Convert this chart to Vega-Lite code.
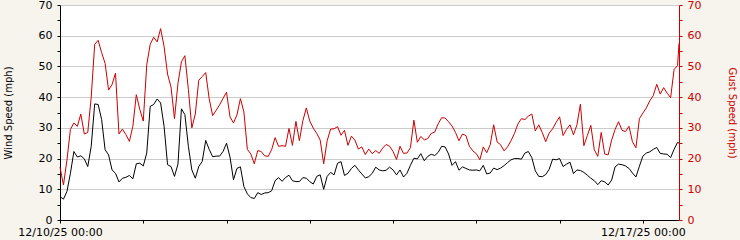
{
  "$schema": "https://vega.github.io/schema/vega-lite/v6.json",
  "width": 619,
  "height": 215,
  "autosize": "none",
  "padding": {"left": 60, "top": 5, "right": 61, "bottom": 20},
  "background": "#f6f4ec",
  "config": {
    "view": {"fill": "white", "stroke": null},
    "font": "DejaVu Sans",
    "axis": {"labelFont": "DejaVu Sans", "titleFont": "DejaVu Sans", "labelFontSize": 11, "titleFontSize": 10, "titleFontWeight": "normal", "labelFlush": false, "labelOverlap": false, "labelBound": false}
  },
  "data": {"values": [
    {"time": "2025-12-10T00:00", "wind": 7.6, "gust": 17.2},
    {"time": "2025-12-10T01:00", "wind": 6.8, "gust": 11.4},
    {"time": "2025-12-10T02:00", "wind": 9.3, "gust": 19.5},
    {"time": "2025-12-10T03:00", "wind": 15.2, "gust": 29.5},
    {"time": "2025-12-10T04:00", "wind": 22.3, "gust": 31.6},
    {"time": "2025-12-10T05:00", "wind": 20.5, "gust": 30.5},
    {"time": "2025-12-10T06:00", "wind": 20.9, "gust": 34.5},
    {"time": "2025-12-10T07:00", "wind": 19.9, "gust": 28.0},
    {"time": "2025-12-10T08:00", "wind": 17.4, "gust": 28.5},
    {"time": "2025-12-10T09:00", "wind": 24.0, "gust": 40.0},
    {"time": "2025-12-10T10:00", "wind": 37.8, "gust": 57.2},
    {"time": "2025-12-10T11:00", "wind": 37.6, "gust": 58.5},
    {"time": "2025-12-10T12:00", "wind": 32.7, "gust": 54.5},
    {"time": "2025-12-10T13:00", "wind": 22.9, "gust": 51.0},
    {"time": "2025-12-10T14:00", "wind": 21.2, "gust": 42.3},
    {"time": "2025-12-10T15:00", "wind": 16.3, "gust": 44.1},
    {"time": "2025-12-10T16:00", "wind": 15.2, "gust": 47.8},
    {"time": "2025-12-10T17:00", "wind": 12.4, "gust": 28.0},
    {"time": "2025-12-10T18:00", "wind": 13.6, "gust": 29.6},
    {"time": "2025-12-10T19:00", "wind": 13.9, "gust": 27.8},
    {"time": "2025-12-10T20:00", "wind": 14.5, "gust": 25.6},
    {"time": "2025-12-10T21:00", "wind": 13.4, "gust": 30.5},
    {"time": "2025-12-10T22:00", "wind": 18.3, "gust": 40.8},
    {"time": "2025-12-10T23:00", "wind": 18.5, "gust": 36.0},
    {"time": "2025-12-11T00:00", "wind": 17.6, "gust": 32.2},
    {"time": "2025-12-11T01:00", "wind": 21.8, "gust": 50.5},
    {"time": "2025-12-11T02:00", "wind": 37.0, "gust": 57.2},
    {"time": "2025-12-11T03:00", "wind": 37.6, "gust": 59.5},
    {"time": "2025-12-11T04:00", "wind": 39.4, "gust": 58.0},
    {"time": "2025-12-11T05:00", "wind": 38.1, "gust": 62.3},
    {"time": "2025-12-11T06:00", "wind": 30.5, "gust": 56.5},
    {"time": "2025-12-11T07:00", "wind": 18.0, "gust": 47.5},
    {"time": "2025-12-11T08:00", "wind": 17.4, "gust": 43.3},
    {"time": "2025-12-11T09:00", "wind": 14.2, "gust": 33.0},
    {"time": "2025-12-11T10:00", "wind": 18.2, "gust": 44.5},
    {"time": "2025-12-11T11:00", "wind": 36.2, "gust": 51.5},
    {"time": "2025-12-11T12:00", "wind": 34.3, "gust": 53.5},
    {"time": "2025-12-11T13:00", "wind": 24.0, "gust": 42.5},
    {"time": "2025-12-11T14:00", "wind": 16.3, "gust": 30.0},
    {"time": "2025-12-11T15:00", "wind": 13.6, "gust": 34.5},
    {"time": "2025-12-11T16:00", "wind": 17.4, "gust": 45.5},
    {"time": "2025-12-11T17:00", "wind": 19.1, "gust": 46.7},
    {"time": "2025-12-11T18:00", "wind": 25.9, "gust": 48.0},
    {"time": "2025-12-11T19:00", "wind": 23.0, "gust": 39.5},
    {"time": "2025-12-11T20:00", "wind": 20.6, "gust": 34.0},
    {"time": "2025-12-11T21:00", "wind": 20.8, "gust": 35.7},
    {"time": "2025-12-11T22:00", "wind": 20.8, "gust": 37.5},
    {"time": "2025-12-11T23:00", "wind": 22.3, "gust": 39.6},
    {"time": "2025-12-12T00:00", "wind": 25.0, "gust": 41.6},
    {"time": "2025-12-12T01:00", "wind": 20.5, "gust": 33.6},
    {"time": "2025-12-12T02:00", "wind": 13.1, "gust": 31.6},
    {"time": "2025-12-12T03:00", "wind": 16.8, "gust": 34.2},
    {"time": "2025-12-12T04:00", "wind": 17.3, "gust": 39.5},
    {"time": "2025-12-12T05:00", "wind": 10.9, "gust": 35.2},
    {"time": "2025-12-12T06:00", "wind": 8.5, "gust": 23.0},
    {"time": "2025-12-12T07:00", "wind": 7.3, "gust": 21.5},
    {"time": "2025-12-12T08:00", "wind": 7.0, "gust": 18.3},
    {"time": "2025-12-12T09:00", "wind": 8.9, "gust": 22.6},
    {"time": "2025-12-12T10:00", "wind": 8.3, "gust": 22.3},
    {"time": "2025-12-12T11:00", "wind": 8.8, "gust": 20.9},
    {"time": "2025-12-12T12:00", "wind": 8.9, "gust": 20.7},
    {"time": "2025-12-12T13:00", "wind": 9.5, "gust": 22.9},
    {"time": "2025-12-12T14:00", "wind": 12.8, "gust": 26.8},
    {"time": "2025-12-12T15:00", "wind": 13.8, "gust": 24.0},
    {"time": "2025-12-12T16:00", "wind": 12.6, "gust": 24.2},
    {"time": "2025-12-12T17:00", "wind": 13.8, "gust": 24.0},
    {"time": "2025-12-12T18:00", "wind": 14.6, "gust": 29.8},
    {"time": "2025-12-12T19:00", "wind": 12.8, "gust": 24.3},
    {"time": "2025-12-12T20:00", "wind": 12.5, "gust": 32.1},
    {"time": "2025-12-12T21:00", "wind": 12.5, "gust": 25.8},
    {"time": "2025-12-12T22:00", "wind": 13.8, "gust": 32.3},
    {"time": "2025-12-12T23:00", "wind": 13.6, "gust": 36.5},
    {"time": "2025-12-13T00:00", "wind": 12.5, "gust": 32.2},
    {"time": "2025-12-13T01:00", "wind": 11.7, "gust": 29.9},
    {"time": "2025-12-13T02:00", "wind": 14.2, "gust": 28.2},
    {"time": "2025-12-13T03:00", "wind": 14.7, "gust": 26.0},
    {"time": "2025-12-13T04:00", "wind": 10.0, "gust": 18.3},
    {"time": "2025-12-13T05:00", "wind": 14.2, "gust": 25.8},
    {"time": "2025-12-13T06:00", "wind": 15.5, "gust": 29.6},
    {"time": "2025-12-13T07:00", "wind": 14.7, "gust": 29.7},
    {"time": "2025-12-13T08:00", "wind": 18.5, "gust": 30.4},
    {"time": "2025-12-13T09:00", "wind": 19.0, "gust": 27.6},
    {"time": "2025-12-13T10:00", "wind": 14.5, "gust": 29.2},
    {"time": "2025-12-13T11:00", "wind": 15.2, "gust": 24.3},
    {"time": "2025-12-13T12:00", "wind": 16.8, "gust": 27.3},
    {"time": "2025-12-13T13:00", "wind": 17.8, "gust": 26.0},
    {"time": "2025-12-13T14:00", "wind": 16.3, "gust": 23.1},
    {"time": "2025-12-13T15:00", "wind": 15.0, "gust": 23.8},
    {"time": "2025-12-13T16:00", "wind": 13.7, "gust": 21.3},
    {"time": "2025-12-13T17:00", "wind": 14.1, "gust": 23.1},
    {"time": "2025-12-13T18:00", "wind": 15.2, "gust": 21.6},
    {"time": "2025-12-13T19:00", "wind": 17.2, "gust": 22.6},
    {"time": "2025-12-13T20:00", "wind": 16.3, "gust": 21.7},
    {"time": "2025-12-13T21:00", "wind": 16.0, "gust": 23.4},
    {"time": "2025-12-13T22:00", "wind": 16.2, "gust": 24.6},
    {"time": "2025-12-13T23:00", "wind": 17.2, "gust": 24.0},
    {"time": "2025-12-14T00:00", "wind": 16.3, "gust": 22.3},
    {"time": "2025-12-14T01:00", "wind": 14.7, "gust": 19.7},
    {"time": "2025-12-14T02:00", "wind": 16.3, "gust": 24.0},
    {"time": "2025-12-14T03:00", "wind": 14.0, "gust": 21.7},
    {"time": "2025-12-14T04:00", "wind": 15.2, "gust": 21.8},
    {"time": "2025-12-14T05:00", "wind": 17.8, "gust": 23.5},
    {"time": "2025-12-14T06:00", "wind": 20.1, "gust": 32.5},
    {"time": "2025-12-14T07:00", "wind": 19.9, "gust": 25.3},
    {"time": "2025-12-14T08:00", "wind": 21.6, "gust": 27.2},
    {"time": "2025-12-14T09:00", "wind": 19.3, "gust": 26.1},
    {"time": "2025-12-14T10:00", "wind": 20.7, "gust": 26.5},
    {"time": "2025-12-14T11:00", "wind": 21.4, "gust": 28.2},
    {"time": "2025-12-14T12:00", "wind": 21.0, "gust": 28.6},
    {"time": "2025-12-14T13:00", "wind": 22.0, "gust": 31.3},
    {"time": "2025-12-14T14:00", "wind": 24.0, "gust": 33.3},
    {"time": "2025-12-14T15:00", "wind": 23.8, "gust": 33.2},
    {"time": "2025-12-14T16:00", "wind": 21.5, "gust": 32.0},
    {"time": "2025-12-14T17:00", "wind": 17.8, "gust": 30.6},
    {"time": "2025-12-14T18:00", "wind": 19.0, "gust": 28.5},
    {"time": "2025-12-14T19:00", "wind": 16.2, "gust": 25.8},
    {"time": "2025-12-14T20:00", "wind": 17.3, "gust": 28.0},
    {"time": "2025-12-14T21:00", "wind": 16.8, "gust": 27.5},
    {"time": "2025-12-14T22:00", "wind": 16.3, "gust": 24.0},
    {"time": "2025-12-14T23:00", "wind": 16.2, "gust": 22.5},
    {"time": "2025-12-15T00:00", "wind": 16.3, "gust": 21.6},
    {"time": "2025-12-15T01:00", "wind": 16.0, "gust": 19.6},
    {"time": "2025-12-15T02:00", "wind": 17.8, "gust": 23.8},
    {"time": "2025-12-15T03:00", "wind": 15.0, "gust": 21.9},
    {"time": "2025-12-15T04:00", "wind": 15.3, "gust": 24.5},
    {"time": "2025-12-15T05:00", "wind": 16.9, "gust": 31.0},
    {"time": "2025-12-15T06:00", "wind": 16.4, "gust": 25.4},
    {"time": "2025-12-15T07:00", "wind": 16.9, "gust": 24.5},
    {"time": "2025-12-15T08:00", "wind": 17.7, "gust": 22.5},
    {"time": "2025-12-15T09:00", "wind": 18.7, "gust": 23.8},
    {"time": "2025-12-15T10:00", "wind": 19.6, "gust": 25.8},
    {"time": "2025-12-15T11:00", "wind": 20.0, "gust": 28.2},
    {"time": "2025-12-15T12:00", "wind": 20.0, "gust": 31.3},
    {"time": "2025-12-15T13:00", "wind": 19.8, "gust": 33.0},
    {"time": "2025-12-15T14:00", "wind": 21.8, "gust": 32.7},
    {"time": "2025-12-15T15:00", "wind": 22.3, "gust": 33.8},
    {"time": "2025-12-15T16:00", "wind": 20.3, "gust": 34.5},
    {"time": "2025-12-15T17:00", "wind": 16.0, "gust": 29.0},
    {"time": "2025-12-15T18:00", "wind": 14.2, "gust": 31.0},
    {"time": "2025-12-15T19:00", "wind": 14.1, "gust": 28.5},
    {"time": "2025-12-15T20:00", "wind": 14.8, "gust": 25.5},
    {"time": "2025-12-15T21:00", "wind": 16.5, "gust": 28.3},
    {"time": "2025-12-15T22:00", "wind": 19.8, "gust": 29.7},
    {"time": "2025-12-15T23:00", "wind": 19.6, "gust": 31.8},
    {"time": "2025-12-16T00:00", "wind": 20.0, "gust": 33.6},
    {"time": "2025-12-16T01:00", "wind": 17.4, "gust": 27.5},
    {"time": "2025-12-16T02:00", "wind": 18.2, "gust": 29.5},
    {"time": "2025-12-16T03:00", "wind": 18.8, "gust": 31.0},
    {"time": "2025-12-16T04:00", "wind": 15.1, "gust": 27.7},
    {"time": "2025-12-16T05:00", "wind": 16.3, "gust": 31.0},
    {"time": "2025-12-16T06:00", "wind": 16.1, "gust": 37.7},
    {"time": "2025-12-16T07:00", "wind": 15.5, "gust": 24.2},
    {"time": "2025-12-16T08:00", "wind": 14.6, "gust": 27.5},
    {"time": "2025-12-16T09:00", "wind": 13.6, "gust": 30.8},
    {"time": "2025-12-16T10:00", "wind": 12.8, "gust": 22.9},
    {"time": "2025-12-16T11:00", "wind": 11.5, "gust": 20.7},
    {"time": "2025-12-16T12:00", "wind": 12.8, "gust": 28.5},
    {"time": "2025-12-16T13:00", "wind": 12.4, "gust": 21.5},
    {"time": "2025-12-16T14:00", "wind": 11.4, "gust": 21.2},
    {"time": "2025-12-16T15:00", "wind": 13.0, "gust": 26.0},
    {"time": "2025-12-16T16:00", "wind": 17.3, "gust": 29.5},
    {"time": "2025-12-16T17:00", "wind": 18.2, "gust": 32.0},
    {"time": "2025-12-16T18:00", "wind": 18.0, "gust": 29.2},
    {"time": "2025-12-16T19:00", "wind": 17.6, "gust": 28.8},
    {"time": "2025-12-16T20:00", "wind": 16.8, "gust": 30.5},
    {"time": "2025-12-16T21:00", "wind": 15.3, "gust": 25.5},
    {"time": "2025-12-16T22:00", "wind": 14.0, "gust": 23.5},
    {"time": "2025-12-16T23:00", "wind": 17.5, "gust": 33.0},
    {"time": "2025-12-17T00:00", "wind": 20.8, "gust": 34.8},
    {"time": "2025-12-17T01:00", "wind": 21.8, "gust": 36.5},
    {"time": "2025-12-17T02:00", "wind": 22.2, "gust": 38.8},
    {"time": "2025-12-17T03:00", "wind": 23.0, "gust": 40.5},
    {"time": "2025-12-17T04:00", "wind": 23.6, "gust": 44.2},
    {"time": "2025-12-17T05:00", "wind": 21.7, "gust": 41.0},
    {"time": "2025-12-17T06:00", "wind": 21.5, "gust": 43.1},
    {"time": "2025-12-17T07:00", "wind": 21.4, "gust": 41.3},
    {"time": "2025-12-17T08:00", "wind": 20.3, "gust": 39.8},
    {"time": "2025-12-17T09:00", "wind": 23.0, "gust": 49.0},
    {"time": "2025-12-17T10:00", "wind": 25.3, "gust": 50.3},
    {"time": "2025-12-17T10:25", "wind": 25.0, "gust": 57.5}
  ]},
  "encoding": {
    "x": {
      "field": "time", "type": "temporal",
      "scale": {"domain": [{"year": 2025, "month": 12, "date": 10, "hours": 0}, {"year": 2025, "month": 12, "date": 17, "hours": 10, "minutes": 25}], "nice": false},
      "axis": {
        "title": null,
        "values": [
          {"year": 2025, "month": 12, "date": 10}, {"year": 2025, "month": 12, "date": 11},
          {"year": 2025, "month": 12, "date": 12}, {"year": 2025, "month": 12, "date": 13},
          {"year": 2025, "month": 12, "date": 14}, {"year": 2025, "month": 12, "date": 15},
          {"year": 2025, "month": 12, "date": 16}, {"year": 2025, "month": 12, "date": 17}
        ],
        "labelExpr": "(date(datum.value) == 10 || date(datum.value) == 17) ? timeFormat(datum.value, '%m/%d/%y %H:%M') : ''",
        "grid": false,
        "domainColor": "black",
        "tickColor": "black",
        "tickSize": 3,
        "labelPadding": 3,
        "labelColor": "black"
      }
    }
  },
  "layer": [
    {
      "mark": {"type": "line", "color": "black", "strokeWidth": 1},
      "encoding": {
        "y": {
          "field": "wind", "type": "quantitative",
          "scale": {"domain": [0, 70], "nice": false},
          "axis": {
            "title": "Wind Speed (mph)",
            "values": [0, 5, 10, 15, 20, 25, 30, 35, 40, 45, 50, 55, 60, 65, 70],
            "labelExpr": "datum.value % 10 == 0 ? datum.label : ''",
            "grid": true,
            "gridColor": "#cccccc",
            "gridOpacity": {"condition": {"test": "datum.value % 10 != 0", "value": 0}, "value": 1},
            "domainColor": "black",
            "tickColor": "black",
            "tickSize": 3,
            "labelPadding": 5,
            "labelColor": "black",
            "titleColor": "black",
            "titlePadding": 25
          }
        }
      }
    },
    {
      "mark": {"type": "line", "color": "#cc0000", "strokeWidth": 1},
      "encoding": {
        "y": {
          "field": "gust", "type": "quantitative",
          "scale": {"domain": [0, 70], "nice": false},
          "axis": {
            "orient": "right",
            "title": "Gust Speed (mph)",
            "values": [0, 5, 10, 15, 20, 25, 30, 35, 40, 45, 50, 55, 60, 65, 70],
            "labelExpr": "datum.value % 10 == 0 ? datum.label : ''",
            "grid": false,
            "domainColor": "#cc0000",
            "tickColor": "#cc0000",
            "tickSize": 3,
            "labelPadding": 5,
            "labelColor": "#cc0000",
            "titleColor": "#cc0000",
            "titlePadding": 26
          }
        }
      }
    }
  ],
  "resolve": {"scale": {"y": "independent"}}
}
